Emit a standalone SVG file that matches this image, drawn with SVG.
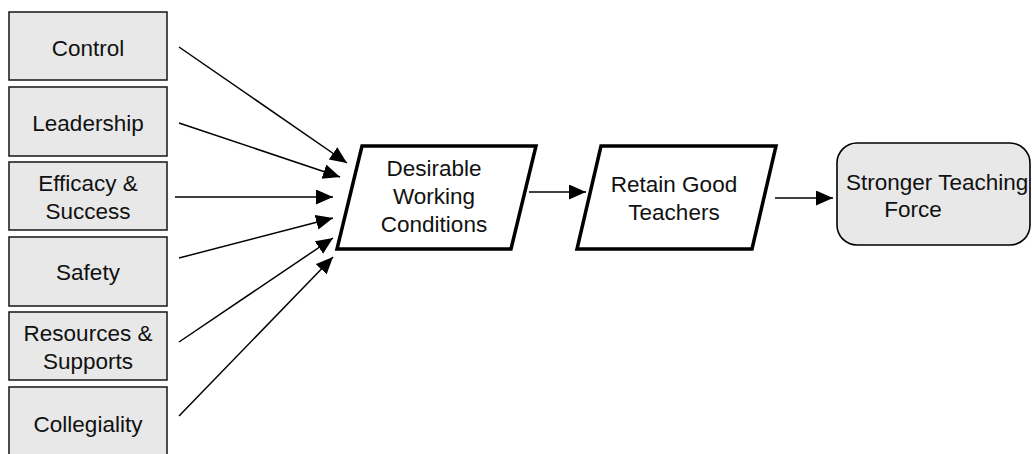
<svg xmlns="http://www.w3.org/2000/svg" width="1032" height="454" viewBox="0 0 1032 454">
<style>
.box{fill:#e8e8e8;stroke:#222;stroke-width:1.6}
.para{fill:#fff;stroke:#000;stroke-width:3.5;stroke-linejoin:miter}
.out{fill:#e8e8e8;stroke:#000;stroke-width:1.6}
text{font-family:"Liberation Sans",Arial,sans-serif;font-size:22.5px;fill:#111;text-anchor:middle}
.conn line{stroke:#000;stroke-width:1.5;marker-end:url(#ah)}
</style>
<defs>
<marker id="ah" markerUnits="userSpaceOnUse" markerWidth="18" markerHeight="16" refX="17" refY="7.5" orient="auto">
<path d="M0,0 L17,7.5 L0,15 z" fill="#000"/>
</marker>
</defs>
<rect width="1032" height="454" fill="#fff"/>
<g id="control"><rect class="box" x="9" y="12" width="158" height="68"/><text x="88" y="56">Control</text></g>
<g id="leadership"><rect class="box" x="9" y="87" width="158" height="69"/><text x="88" y="131">Leadership</text></g>
<g id="efficacy"><rect class="box" x="9" y="162" width="158" height="68"/><text x="88" y="190.5">Efficacy &amp;</text><text x="88" y="218.5">Success</text></g>
<g id="safety"><rect class="box" x="9" y="237" width="158" height="69"/><text x="88" y="279.5">Safety</text></g>
<g id="resources"><rect class="box" x="9" y="312" width="158" height="68"/><text x="88" y="340.5">Resources &amp;</text><text x="88" y="369">Supports</text></g>
<g id="collegiality"><rect class="box" x="9" y="387" width="158" height="72"/><text x="88" y="432">Collegiality</text></g>
<g id="desirable"><polygon class="para" points="362,146 536,146 511,249 337,249"/><text x="434" y="175.5">Desirable</text><text x="434" y="203.5">Working</text><text x="434" y="231.5">Conditions</text></g>
<g id="retain"><polygon class="para" points="601,146 776,146 752,249 577,249"/><text x="674" y="191.5">Retain Good</text><text x="674" y="220">Teachers</text></g>
<g id="stronger"><rect class="out" x="837" y="143" width="193" height="102" rx="20" ry="20"/><text x="846" y="189.5" style="text-anchor:start">Stronger Teaching</text><text x="913" y="217">Force</text></g>
<g class="conn" id="connectors">
<line x1="179" y1="47" x2="347" y2="163"/>
<line x1="179" y1="123" x2="340" y2="177"/>
<line x1="175" y1="197" x2="333" y2="197"/>
<line x1="179" y1="258" x2="333" y2="218"/>
<line x1="179" y1="342" x2="333" y2="238"/>
<line x1="179" y1="416" x2="333" y2="257"/>
<line x1="529" y1="192" x2="586" y2="192"/>
<line x1="775" y1="198" x2="833" y2="198"/>
</g>
</svg>
